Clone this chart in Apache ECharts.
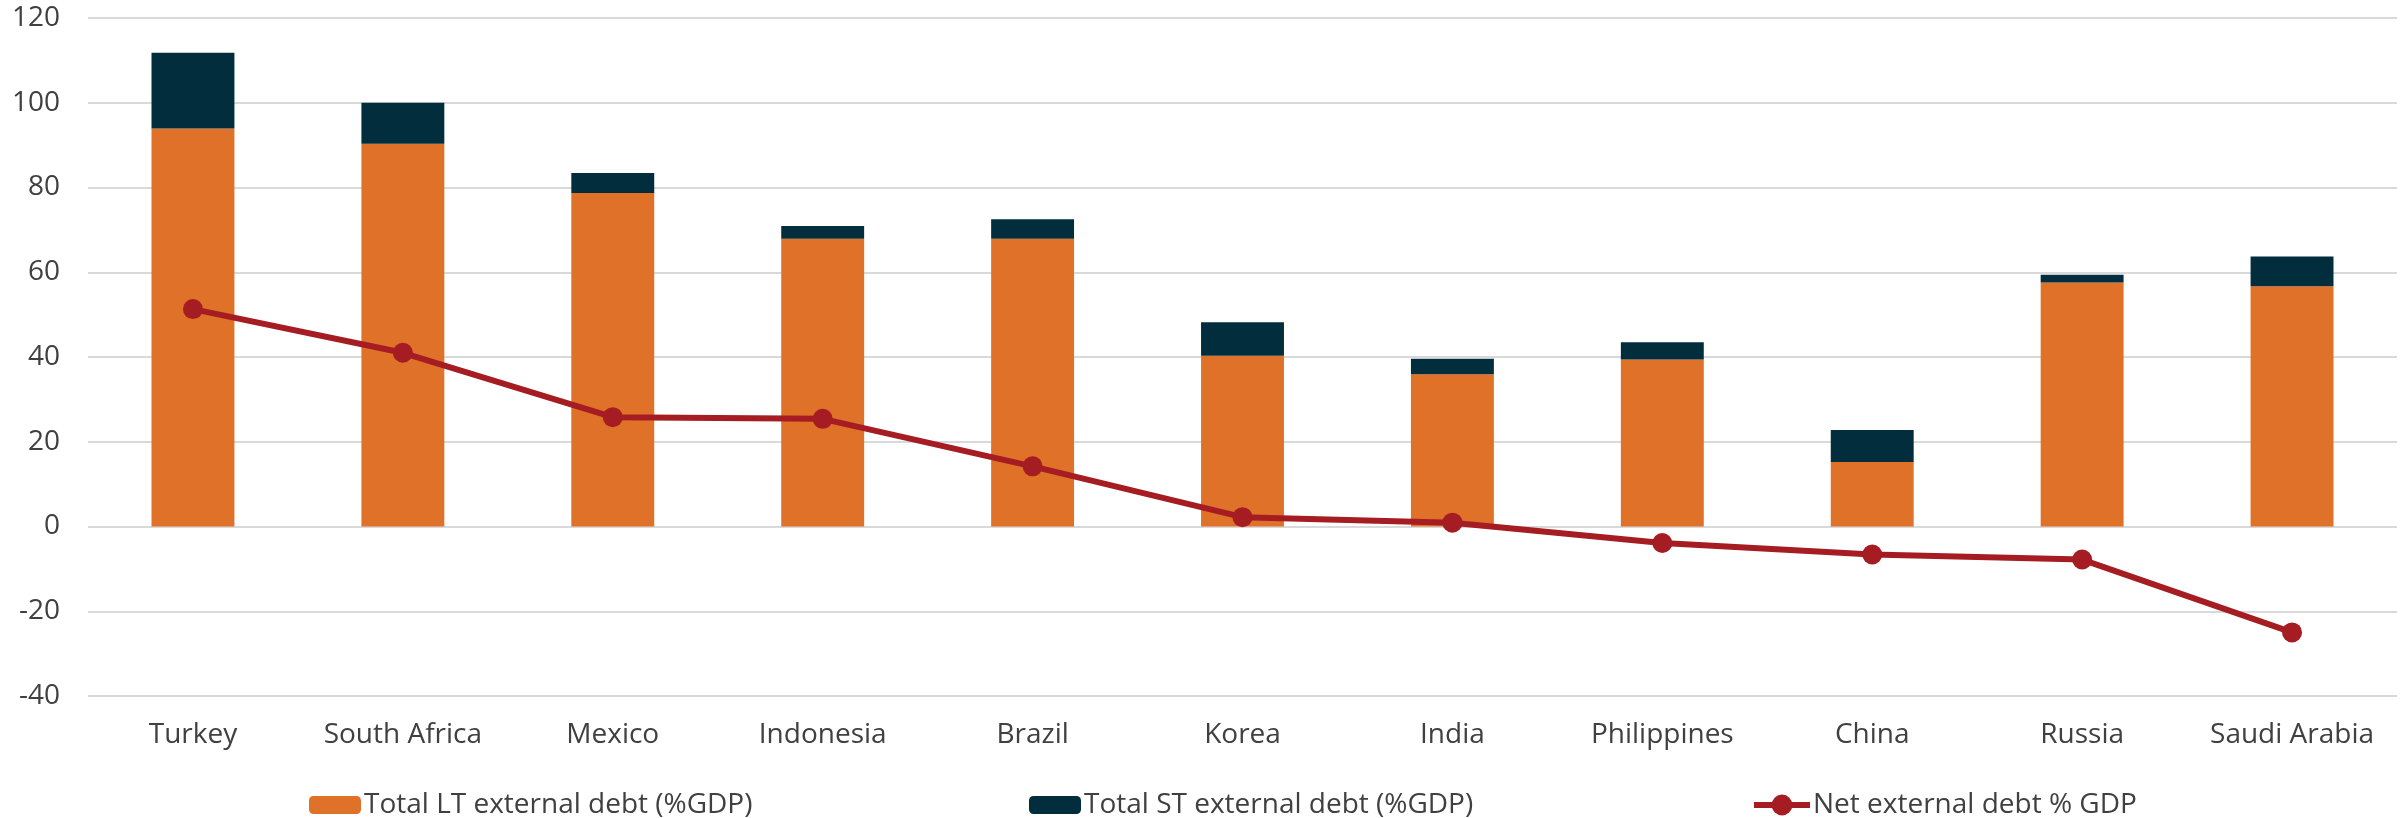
<!DOCTYPE html>
<html>
<head>
<meta charset="utf-8">
<title>External debt (%GDP)</title>
<script src="https://cdn.jsdelivr.net/npm/echarts@6/dist/echarts.min.js"></script>
<style>
  html, body { margin: 0; padding: 0; background: #ffffff; }
  #chart { width: 2407px; height: 818px; }
</style>
</head>
<body>
<div id="chart"></div>
<script>
// Countries along the category axis
const countries = ['Turkey', 'South Africa', 'Mexico', 'Indonesia', 'Brazil', 'Korea',
  'India', 'Philippines', 'China', 'Russia', 'Saudi Arabia'];

// Long-term external debt, % of GDP (lower stack)
const ltDebt = [93.9, 90.3, 78.7, 67.9, 67.9, 40.3, 35.9, 39.4, 15.2, 57.6, 56.7];

// Short-term external debt, % of GDP (upper stack)
const stDebt = [17.9, 9.7, 4.7, 3.0, 4.6, 7.9, 3.7, 4.1, 7.6, 1.8, 7.0];

// Net external debt, % of GDP (line)
const netDebt = [51.3, 41.0, 25.8, 25.4, 14.2, 2.2, 0.9, -3.9, -6.6, -7.8, -25.0];

// Value-axis ticks
const yTicks = { min: -40, max: 120, step: 20 };

const seriesNames = ['Total LT external debt (%GDP)', 'Total ST external debt (%GDP)', 'Net external debt % GDP'];

const FONT = '"Open Sans", "Noto Sans", sans-serif';
const TEXT = '#404040';
const LINE_RED = '#A51C22';

const legendText = { fontFamily: FONT, fontSize: 28, color: TEXT, padding: [0, 0, 0, -2] };

const chart = echarts.init(document.getElementById('chart'), null, { renderer: 'canvas' });

chart.setOption({
  animation: false,
  backgroundColor: '#ffffff',
  grid: { left: 88, right: 10, top: 18, bottom: 122, containLabel: false },
  legend: [
    { data: [seriesNames[0]], left: 304, top: 786, itemWidth: 52, itemHeight: 18, itemGap: 0, textStyle: legendText, selectedMode: false },
    { data: [seriesNames[1]], left: 1024, top: 786, itemWidth: 52, itemHeight: 18, itemGap: 0, textStyle: legendText, selectedMode: false },
    {
      data: [{ name: seriesNames[2], lineStyle: { width: 6, color: LINE_RED } }],
      left: 1746, top: 786, itemWidth: 56, itemHeight: 26, itemGap: 0,
      textStyle: legendText, selectedMode: false
    }
  ],
  xAxis: {
    type: 'category',
    data: countries,
    position: 'bottom',
    axisLine: { show: false, onZero: false },
    axisTick: { show: false },
    axisLabel: { fontFamily: FONT, fontSize: 28, color: TEXT, margin: 25, interval: 0, hideOverlap: false },
    splitLine: { show: false }
  },
  yAxis: {
    type: 'value',
    min: yTicks.min,
    max: yTicks.max,
    interval: yTicks.step,
    axisLine: { show: false },
    axisTick: { show: false },
    axisLabel: { fontFamily: FONT, fontSize: 28, color: TEXT, margin: 28 },
    splitLine: { lineStyle: { color: '#d9d9d9', width: 2 } }
  },
  series: [
    {
      name: seriesNames[0],
      type: 'bar',
      stack: 'debt',
      data: ltDebt,
      barWidth: '39.5%',
      itemStyle: { color: '#E07128' }
    },
    {
      name: seriesNames[1],
      type: 'bar',
      stack: 'debt',
      data: stDebt,
      barWidth: '39.5%',
      itemStyle: { color: '#022D3C' }
    },
    {
      name: seriesNames[2],
      type: 'line',
      data: netDebt,
      symbol: 'circle',
      symbolSize: 20,
      z: 5,
      lineStyle: { color: LINE_RED, width: 6 },
      itemStyle: { color: LINE_RED }
    }
  ]
});
</script>
</body>
</html>
